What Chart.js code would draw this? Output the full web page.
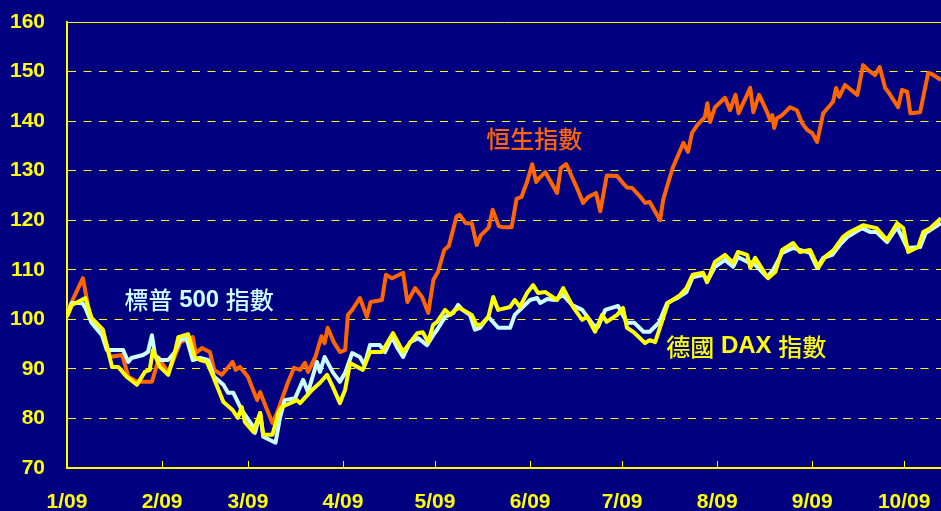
<!DOCTYPE html>
<html>
<head>
<meta charset="utf-8">
<script src="https://cdn.jsdelivr.net/npm/chart.js@4"></script>
<style>
  html, body { margin: 0; padding: 0; background: #000080; }
  #wrap { width: 941px; height: 511px; }
</style>
</head>
<body>
<div id="wrap"><canvas id="chart" width="941" height="511"></canvas></div>
<script>
// x axis is days since 1 Jan 2009, ticks at the start of each month
const monthDays = [0, 31, 59, 90, 120, 151, 181, 212, 243, 273];
const monthLabels = ["1/09", "2/09", "3/09", "4/09", "5/09", "6/09", "7/09", "8/09", "9/09", "10/09"];
const yTicks = [70, 80, 90, 100, 110, 120, 130, 140, 150, 160];

// Hang Seng (rebased to 100)
const hsDays = [0, 5.2, 7.5, 11.7, 14, 18, 20, 23, 27.7, 30, 33, 37, 41, 42, 44, 46.6, 48, 50.5, 54, 55, 56.4, 59, 60, 62, 63, 65, 67, 68.5,
  72, 74, 76, 77.6, 78.6, 81, 83, 84, 85, 87, 89, 90.7, 91.6, 93, 95.5, 97.8, 99, 102.7, 104, 106, 109.6, 111, 113.5, 115.8, 117.8,
  119.5, 121, 123, 124.5, 127, 128, 130, 132, 133.6, 135, 137.5, 138.8, 140.8, 142, 145, 146.6, 148.2, 150, 151.7, 153, 154.3, 156,
  159.8, 161, 162.8, 166.3, 168.3, 170, 172.5, 173.9, 176, 179.4, 181, 182.6, 184.3, 187, 188.5, 190, 193.4, 194.4, 196, 197.6,
  201, 202.5, 203.8, 205.5, 208, 208.8, 209.7, 211.3, 214.6, 216.2, 218, 219, 222.8, 223.8, 225.7, 228.3, 229.3, 230, 230.6, 231.5,
  233.2, 235.8, 238, 239.7, 241.4, 243, 244.6, 246.6, 249.8, 250.8, 251.8, 253.7, 257.7, 259.6, 261.3, 263.5, 265, 266.8, 267.8,
  271, 272.3, 274, 275, 278.2, 280.8, 282, 285];
const hsIndex = [101.5, 108.3, 100.5, 97.5, 92.4, 92.8, 88.4, 87.4, 87.4, 92.2, 89.2, 95.4, 96.4, 93.2, 94.2, 93.4, 89.8, 88.8, 91.4, 89.8, 90.4, 88.4, 86.8, 83.7, 85.3, 82.1, 79.1, 81.1,
  87.2, 90.2, 89.8, 91.2, 89.4, 92.4, 96.6, 95.2, 98.3, 95.4, 93.4, 93.8, 100.9, 101.9, 104.3, 100.5, 103.5, 103.9, 109.0, 108.3, 109.4, 103.5, 106.3, 104.5, 101.3,
  108, 109.6, 114, 114.8, 120.7, 121.1, 119.4, 119.4, 115, 117, 118.5, 122.1, 118.8, 118.6, 118.6, 124.3, 124.7, 127.7, 131.3, 127.7, 128.7, 129.7,
  125.5, 130.5, 131.3, 126.5, 123.5, 124.7, 125.5, 121.8, 129, 128.9, 127.7, 126.6, 126.5, 124.7, 123.5, 123.7, 120, 124.1, 127.5, 130.7,
  135.6, 133.8, 137.6, 139.2, 140.8, 143.6, 139.8, 142.8, 144.7, 142.2, 145.3, 141.6, 146.7, 141.8, 145.3, 141.8, 140.2, 141.2, 138.6, 140.6,
  141.2, 142.8, 142.2, 139.6, 138.2, 137.6, 135.8, 141.6, 143.9, 146.7, 144.9, 147.3, 145.3, 151.3, 150.3, 149.3, 150.9, 146.7, 145.9,
  142.8, 146.3, 145.9, 141.6, 141.8, 149.7, 149.5, 148.3];

// S&P 500
const spDays = [0, 1.6, 5, 6, 8, 11.4, 13, 15.7, 18.3, 20, 21, 24.8, 26.4, 27.7, 28.7, 30.3, 33, 35.2, 36.9, 39, 41, 43.4, 46, 48, 51, 52.5, 54.2, 57,
  60.3, 61.3, 63, 64, 68, 69.5, 71, 74.4, 77, 78.6, 81.5, 82.5, 84, 86.8, 89, 90.7, 93, 95.5, 97, 98.8, 102, 103.7, 106, 107.6, 109.6,
  111.9, 114.5, 117.4, 119.4, 120.7, 123.3, 126, 127.5, 129, 131.4, 133, 134.7, 137.4, 140.6, 144.5, 146, 151, 153.3, 154.3, 156.6,
  159, 161.8, 164.7, 168, 171.6, 173.2, 175.5, 179.7, 182.6, 185, 188, 190, 193, 195.7, 199, 202, 204, 207.4, 209, 211.3, 214.6,
  217.2, 218.8, 221.8, 223.8, 228.3, 230.3, 233.2, 236.8, 239, 242.3, 244.6, 246.6, 249.5, 252, 254.4, 259.3, 262, 264, 267.4,
  270.7, 274, 278.2, 280, 282.5, 285];
const spIndex = [101, 103.3, 103.3, 102.3, 99.3, 96.8, 93.8, 93.8, 93.8, 91.4, 92.2, 92.8, 93.4, 96.8, 92.8, 91.8, 91.8, 93.4, 95.8, 96.2, 91.8, 92.2, 91.8, 88.4, 86.8, 85.2, 85.2, 81.7,
  78.7, 77.1, 81.1, 76.3, 75.1, 80.3, 83.7, 84.1, 87.8, 85.3, 91.4, 89.4, 92.4, 89.2, 87.4, 89.2, 93.2, 92.4, 90.8, 94.8, 94.8, 93.4, 96.4, 94.4, 92.4,
  95.4, 96.2, 94.8, 96.8, 97.9, 100.5, 101.3, 102.9, 101.9, 100.9, 97.9, 98.3, 100.5, 98.3, 98.3, 100.9, 103.9, 104.3, 103.3, 104.1,
  103.9, 104.9, 102.9, 101.9, 98.9, 98.5, 101.9, 102.7, 99.3, 99.3, 97.5, 97.5, 99.3, 103.3, 104.3, 105.5, 108.5, 109, 107.9, 110.6, 112,
  110.6, 112.6, 111.6, 111.4, 108.5, 110, 113.4, 114.4, 114, 113.4, 110.4, 112.4, 113, 115, 116.6, 118.4, 117.6, 117.6, 115.6,
  118.6, 114.4, 114.6, 117.4, 118.4, 119.4];

// DAX
const daxDays = [0, 1.6, 6, 8, 11.7, 14.7, 16.7, 19.5, 22.8, 25.4, 27, 28, 30.3, 33, 35.2, 36.3, 39.5, 41.7, 43.4, 45.6, 47.7, 51, 54, 55.7, 57, 58,
  60.7, 63, 64, 67, 69, 70, 75, 76, 80, 82.5, 84.8, 86.8, 89, 90.7, 92.3, 96.5, 98.8, 102.7, 106.3, 109.6, 112.5, 114.2, 116, 117.8,
  119.4, 120.7, 123.3, 125, 126.5, 128, 132, 133.5, 135, 137.4, 139, 140.6, 144.5, 146, 147.7, 150, 152, 153.6, 156, 159.8, 161.8,
  165, 168, 169.6, 172.2, 174.5, 176, 179.4, 181.3, 182.6, 185, 188.5, 190, 191.8, 194.4, 196, 199.9, 202, 204, 207.4, 208.7,
  211.3, 214.6, 217.2, 218.8, 221.8, 222.8, 224.4, 228.6, 231, 233.2, 236.8, 239, 242.3, 245, 247.2, 250, 253, 254.7, 259.6,
  264, 267.4, 270.7, 272.7, 274.3, 277.6, 279.2, 281.5, 285];
const daxIndex = [100.5, 102.9, 104.3, 100.3, 97.9, 90.4, 90.4, 88.4, 86.8, 89.4, 89.8, 93.8, 90.4, 88.8, 93.4, 96.4, 97, 92.4, 91.8, 91.4, 88.4, 83.3, 81.7, 80.1, 82.3, 79.3,
  77.3, 81.1, 76.7, 76.7, 81.3, 82.3, 83.7, 83.1, 85.8, 87.2, 88.8, 86.2, 83.1, 85.8, 91.2, 89.8, 93.4, 93.4, 97.2, 93.4, 95.8, 97.2, 97.4, 95.4,
  98.9, 99.5, 101.9, 100.9, 101.9, 102.3, 100.9, 98.9, 98.9, 100.5, 104.5, 101.9, 102.5, 103.9, 102.5, 105.3, 106.9, 105.3, 105.5, 103.9, 106.3,
  102.5, 99.9, 100.5, 97.5, 100.9, 99.5, 100.9, 102.3, 98.3, 97.3, 95.2, 95.8, 95.4, 100.3, 103.3, 104.9, 106.3, 109, 109.4, 107.5,
  111.6, 113, 111.4, 113.6, 113, 110.4, 112.4, 108.3, 109.6, 114, 115.4, 113.6, 114, 110.4, 112.6, 114, 116.6, 117.4, 119,
  118.4, 116, 119.4, 118.4, 113.6, 114.6, 117.6, 118.4, 120.4];

// in-chart series names, anchored in data units
const noteTexts = ["恒生指數", "標普 500 指數", "德國 DAX 指數"];
const noteDays = [152.4, 43.1, 221.5];
const noteValues = [136.4, 103.9, 94.5];
const noteColors = ["#FF6600", "#CCFFFF", "#FFFF00"];

const NAVY = "#000080";
const YELLOW = "#FFFF00";
const tickFont = { family: "'Liberation Sans', Arial, sans-serif", size: 21, weight: "bold" };
const CJK_FONT = "500 24px 'Noto Sans CJK TC', sans-serif";
const LATIN_FONT = "bold 24px 'Liberation Sans', Arial, sans-serif";

function toPoints(days, values) {
    return days.map((d, i) => ({ x: d, y: values[i] }));
}

// Latin runs in bold Arial-like, Chinese runs in a medium CJK face
function drawMixed(ctx, text, cx, cy) {
    const runs = text.match(/[\u3400-\u9fff]+|[^\u3400-\u9fff]+/g);
    const widths = runs.map(r => {
        ctx.font = /[\u3400-\u9fff]/.test(r) ? CJK_FONT : LATIN_FONT;
        return ctx.measureText(r).width;
    });
    let x = cx - widths.reduce((a, b) => a + b, 0) / 2;
    runs.forEach((r, i) => {
        ctx.font = /[\u3400-\u9fff]/.test(r) ? CJK_FONT : LATIN_FONT;
        ctx.fillText(r, x, cy);
        x += widths[i];
    });
}

// Fill background, draw inward x ticks and series names
const decorations = {
    id: "decorations",
    beforeDraw(chart) {
        const ctx = chart.ctx;
        ctx.save();
        ctx.fillStyle = NAVY;
        ctx.fillRect(0, 0, chart.width, chart.height);
        ctx.restore();
    },
    afterDraw(chart) {
        const ctx = chart.ctx;
        const xs = chart.scales.x;
        const ys = chart.scales.y;
        const bottom = chart.chartArea.bottom;
        ctx.save();
        ctx.strokeStyle = YELLOW;
        ctx.lineWidth = 1;
        monthDays.slice(1).forEach(d => {
            const px = Math.round(xs.getPixelForValue(d)) + 0.5;
            ctx.beginPath();
            ctx.moveTo(px, bottom);
            ctx.lineTo(px, bottom - 7);
            ctx.stroke();
        });
        ctx.textAlign = "left";
        ctx.textBaseline = "middle";
        noteTexts.forEach((t, i) => {
            ctx.fillStyle = noteColors[i];
            drawMixed(ctx, t, xs.getPixelForValue(noteDays[i]), ys.getPixelForValue(noteValues[i]));
        });
        ctx.restore();
    }
};

new Chart(document.getElementById("chart"), {
    type: "line",
    data: {
        datasets: [
            { label: "德國 DAX 指數", data: toPoints(daxDays, daxIndex), borderColor: "#FFFF00", order: 0 },
            { label: "標普 500 指數", data: toPoints(spDays, spIndex), borderColor: "#CCFFFF", order: 1 },
            { label: "恒生指數", data: toPoints(hsDays, hsIndex), borderColor: "#FF6600", order: 2 }
        ]
    },
    options: {
        responsive: false,
        devicePixelRatio: 1,
        animation: false,
        layout: { autoPadding: false, padding: { top: 22, right: 0, bottom: 0, left: 0 } },
        elements: {
            line: { borderWidth: 4, tension: 0, fill: false, borderJoinStyle: "round" },
            point: { radius: 0 }
        },
        plugins: {
            legend: { display: false },
            tooltip: { enabled: false }
        },
        scales: {
            x: {
                type: "linear",
                min: 0,
                max: 285,
                afterFit: s => {
                    s.height = 43;
                    s.paddingLeft = 0;
                    s.paddingRight = 0;
                },
                afterBuildTicks: s => { s.ticks = monthDays.map(v => ({ value: v })); },
                grid: { display: false },
                border: { display: true, color: YELLOW, width: 2 },
                ticks: {
                    color: YELLOW,
                    font: tickFont,
                    padding: 14,
                    autoSkip: false,
                    maxRotation: 0,
                    callback: v => monthLabels[monthDays.indexOf(v)]
                }
            },
            y: {
                min: 70,
                max: 160,
                afterFit: s => {
                    s.width = 67;
                    s.paddingTop = 0;
                    s.paddingBottom = 0;
                },
                afterBuildTicks: s => { s.ticks = yTicks.map(v => ({ value: v })); },
                grid: {
                    drawTicks: false,
                    tickLength: 0,
                    lineWidth: 1,
                    color: c => (c.tick && c.tick.value === 70) ? "rgba(0,0,0,0)" : YELLOW
                },
                border: {
                    display: true,
                    color: YELLOW,
                    width: 2,
                    dash: c => (c.tick && c.tick.value === 160) ? [] : [8, 7.5]
                },
                ticks: {
                    color: YELLOW,
                    font: tickFont,
                    padding: 22
                }
            }
        }
    },
    plugins: [decorations]
});
</script>
</body>
</html>
